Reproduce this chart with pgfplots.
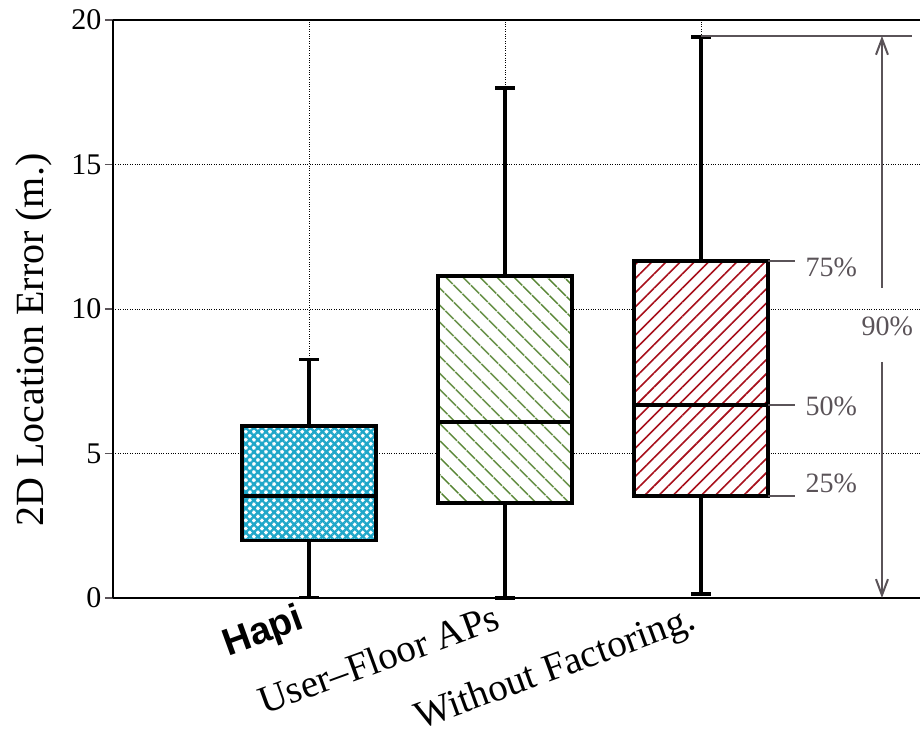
\documentclass[border=0pt]{standalone}
\usepackage{fontspec}
\setmainfont{Liberation Serif}
\newfontfamily\arialfont{Liberation Sans}
\usepackage{pgfplots}
\pgfplotsset{compat=1.18}
\usepgfplotslibrary{statistics}
\usetikzlibrary{patterns.meta,arrows.meta}
\definecolor{hapicyan}{HTML}{1FA7C9}
\definecolor{ufgreen}{HTML}{4F7F2A}
\definecolor{wfred}{HTML}{A8101C}
\definecolor{annot}{HTML}{5A5358}
\begin{document}
\begin{tikzpicture}[x=1pt,y=1pt]
\useasboundingbox (0,0) rectangle (920,730);
\begin{axis}[
  at={(113pt,132pt)}, anchor=south west,
  scale only axis, width=807pt, height=578pt,
  xmin=0, xmax=4.117, ymin=0, ymax=20,
  axis line style={draw=none},
  xtick={1,2,3},
  xticklabels={{\arialfont\bfseries\fontsize{38}{42}\selectfont Hapi},{User--Floor APs},{Without Factoring.}},
  x tick style={draw=none},
  ytick={0,5,10,15,20},
  tick align=outside, major tick length=8pt,
  y tick style={annot, line width=1.5pt},
  grid=major, major grid style={dotted, black, line width=0.9pt},
  yticklabel style={font=\fontsize{30}{34}\selectfont},
  xticklabel style={font=\fontsize{39}{44}\selectfont, rotate=20, anchor=base east},
  xticklabel shift=21pt,
  /pgf/number format/assume math mode=true,
  ylabel={2D Location Error (m.)},
  every axis y label/.style={at={(axis description cs:-0.0867,0.446)}, rotate=90, anchor=base, font=\fontsize{40}{46}\selectfont},
  boxplot/draw direction=y,
  boxplot/every box/.append style={line width=3.2pt},
  boxplot/every whisker/.append style={line width=3.2pt},
  boxplot/every median/.append style={line width=3.2pt},
  clip=false,
]
\addplot[black, line width=3.2pt, solid,
  boxplot prepared={draw position=1, lower whisker=0.03, lower quartile=2.0, median=3.53, upper quartile=5.95, upper whisker=8.24, box extend=0.684, whisker extend=0.1},
  boxplot/every box/.append style={preaction={fill=white}, pattern={Hatch[angle=45,distance=5.7pt,line width=2.4pt]}, pattern color=hapicyan}]
  coordinates {};
\addplot[black, line width=3.2pt, solid,
  boxplot prepared={draw position=2, lower whisker=0.0, lower quartile=3.29, median=6.09, upper quartile=11.14, upper whisker=17.65, box extend=0.684, whisker extend=0.1},
  boxplot/every box/.append style={preaction={fill=white}, pattern={Lines[angle=-45,distance=13pt,line width=1.6pt]}, pattern color=ufgreen}]
  coordinates {};
\addplot[black, line width=3.2pt, solid,
  boxplot prepared={draw position=3, lower whisker=0.14, lower quartile=3.53, median=6.68, upper quartile=11.66, upper whisker=19.41, box extend=0.684, whisker extend=0.1},
  boxplot/every box/.append style={preaction={fill=white}, pattern={Lines[angle=45,distance=10pt,line width=1.6pt]}, pattern color=wfred}]
  coordinates {};
% axis lines
\draw[line width=2pt] (rel axis cs:0,0) -- (rel axis cs:1,0);
\draw[line width=2pt] (rel axis cs:0,1) -- (rel axis cs:1,1);
\draw[line width=2pt] (rel axis cs:0,0) -- (rel axis cs:0,1);
% annotations
\draw[annot, line width=2pt] (axis cs:3.342,11.66) -- (axis cs:3.48,11.66);
\draw[annot, line width=2pt] (axis cs:3.342,6.68) -- (axis cs:3.48,6.68);
\draw[annot, line width=2pt] (axis cs:3.342,3.53) -- (axis cs:3.48,3.53);
\node[annot, anchor=west, font=\fontsize{28}{32}\selectfont] at (axis cs:3.515,11.45) {75\%};
\node[annot, anchor=west, font=\fontsize{28}{32}\selectfont] at (axis cs:3.515,6.64) {50\%};
\node[annot, anchor=west, font=\fontsize{28}{32}\selectfont] at (axis cs:3.515,3.98) {25\%};
\draw[annot, line width=2pt] (axis cs:3.0,19.45) -- (axis cs:4.077,19.45);
\draw[annot, line width=2pt, -{Straight Barb[length=16pt, width=12pt, line width=2pt]}] (axis cs:3.923,10.73) -- (axis cs:3.923,19.45);
\draw[annot, line width=2pt, -{Straight Barb[length=16pt, width=12pt, line width=2pt]}] (axis cs:3.923,8.17) -- (axis cs:3.923,0);
\node[annot, font=\fontsize{28}{32}\selectfont] at (axis cs:3.95,9.41) {90\%};
\end{axis}
\end{tikzpicture}
\end{document}
